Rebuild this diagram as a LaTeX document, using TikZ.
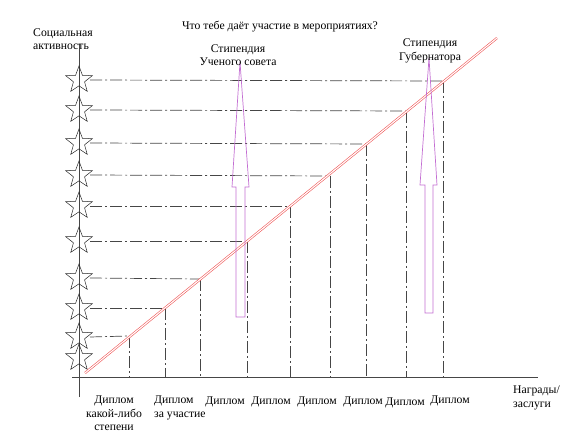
\documentclass[tikz,border=0pt]{standalone}
\usepackage{fontspec}
\setmainfont{Liberation Serif}
\usetikzlibrary{shapes.geometric}
\definecolor{violetline}{RGB}{195,110,210}
\definecolor{redline}{RGB}{240,90,90}
\definecolor{guide}{RGB}{70,70,70}
\begin{document}
\begin{tikzpicture}[x=1pt,y=-1pt,
  axis/.style={draw=guide,line width=0.7pt},
  guideline/.style={draw=guide,line width=0.7pt,dash pattern=on 12pt off 3pt on 2pt off 3pt},
  starnode/.style={star,star points=5,star point ratio=2.4,minimum size=28pt,inner sep=0pt,draw=black!85,line width=0.5pt,fill=none},
  arrowshape/.style={draw=violetline,line width=0.7pt},
  lbl/.style={font=\fontsize{11.7pt}{13.5pt}\selectfont,inner sep=0pt,align=center},
  lblleft/.style={font=\fontsize{11.7pt}{13.5pt}\selectfont,inner sep=0pt,align=left}
]
\useasboundingbox (0,0) rectangle (583,443);

% axes
\coordinate (yt) at (79,44);
\coordinate (yb) at (79,397);
\coordinate (xl) at (72,377);
\coordinate (xr) at (538,377);
\draw[axis] (yb) -- (yt);
\draw[axis] (xl) -- (xr);

% stars
\foreach \i/\y in {1/80,2/110,3/143,4/175,5/206,6/241,7/278,8/308,9/337,10/358}{
  \node[starnode] (s\i) at (79,\y) {};
}

% diagonal
\coordinate (d0) at (85,373);
\coordinate (d1) at (497,38);

% guide lines: horizontal from star to diagonal, vertical to axis
\foreach \i/\y/\x in {1/81/443,2/111/406,3/144/366,4/176/330,5/206/290,6/241/247,7/279/200,8/308/165,9/336/129}{
  \coordinate (p\i) at (\x,\y);
  \coordinate (b\i) at (\x,377);
  \draw[guideline] (s\i.center) ++(11,0) -- (p\i);
  \draw[guideline] (p\i) -- (b\i);
}

\draw[draw=redline,double=white,double distance=1.1pt,line width=0.6pt] (d0) -- (d1);

% arrows
\coordinate (a1t) at (240,62);
\draw[arrowshape] (a1t) -- (232,187) -- (236,187) -- (236,317) -- (245,317) -- (245,187) -- (249,187) -- cycle;
\coordinate (a2t) at (429,58);
\draw[arrowshape] (a2t) -- (420,185) -- (425,185) -- (425,313) -- (433,313) -- (433,185) -- (437,185) -- cycle;

% texts
\node[lbl] (title) at (280,27) {Что тебе даёт участие в мероприятиях?};
\node[lblleft,anchor=west] (ylab) at (33,39) {Социальная\\активность};
\node[lbl] (st1) at (238,55) {Стипендия\\Ученого совета};
\node[lbl] (st2) at (430,51) {Стипендия\\Губернатора};
\node[lbl,anchor=north] (dp1) at (114,396) {Диплом\\какой-либо\\степени};
\node[lblleft,anchor=north west] (dp2) at (154,396) {Диплом\\за участие};
\node[lbl] (dp3) at (225,402) {Диплом};
\node[lbl] (dp4) at (271,402) {Диплом};
\node[lbl] (dp5) at (317,402) {Диплом};
\node[lbl] (dp6) at (363,402) {Диплом};
\node[lbl] (dp7) at (405,403) {Диплом};
\node[lbl] (dp8) at (450,401) {Диплом};
\node[lblleft,anchor=north west] (xlab) at (513,386) {Награды/\\заслуги};
\end{tikzpicture}
\end{document}
